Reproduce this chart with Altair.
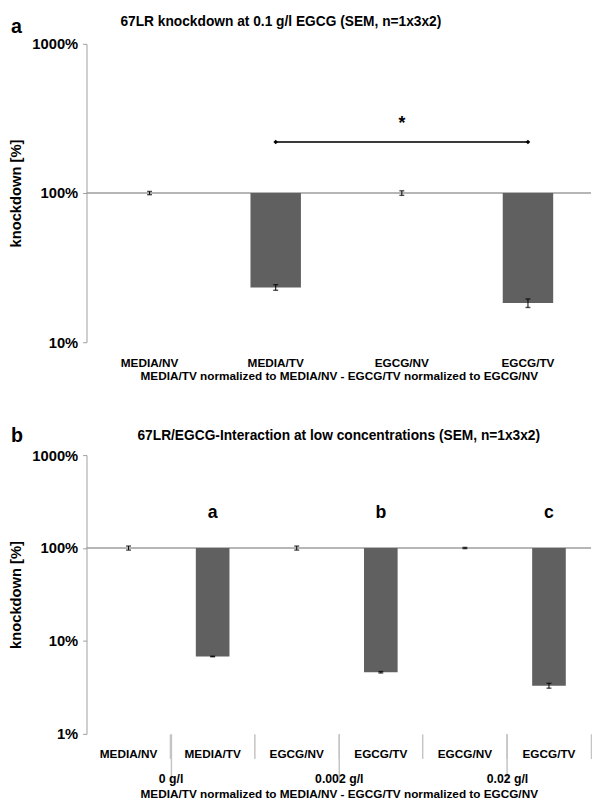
import altair as alt
import pandas as pd

FONT = "Liberation Sans"
BAR = "#606060"
AXIS = "#9e9e9e"
SEP = "#c4c4c4"

# ---------------- data: panel a ----------------
panel_letters = ["a", "b"]
title_a = "67LR knockdown at 0.1 g/l EGCG (SEM, n=1x3x2)"
cats_a = ["MEDIA/NV", "MEDIA/TV", "EGCG/NV", "EGCG/TV"]
vals_a = [100, 23.3, 100, 18.3]
err_a = [2.5, 1.0, 3.5, 1.2]
sig_cats_a = ["MEDIA/TV", "EGCG/TV"]
sig_level_a = [220, 220]
star_cat_a = ["EGCG/NV"]
star_level_a = [290]
yticks_a = [10, 100, 1000]

# ---------------- data: panel b ----------------
title_b = "67LR/EGCG-Interaction at low concentrations (SEM, n=1x3x2)"
group_names = ["0 g/l", "0.002 g/l", "0.02 g/l"]
groups_b = ["0 g/l", "0 g/l", "0.002 g/l", "0.002 g/l", "0.02 g/l", "0.02 g/l"]
cats_b = ["MEDIA/NV", "MEDIA/TV", "EGCG/NV", "EGCG/TV", "EGCG/NV", "EGCG/TV"]
vals_b = [100, 6.8, 100, 4.6, 100, 3.3]
err_b = [5, 0.05, 5, 0.08, 1.5, 0.2]
letter_groups_b = ["0 g/l", "0.002 g/l", "0.02 g/l"]
letter_cats_b = ["MEDIA/TV", "EGCG/TV", "EGCG/TV"]
letter_texts_b = ["a", "b", "c"]
letter_level_b = [240, 240, 240]
yticks_b = [1, 10, 100, 1000]

xtitle = "MEDIA/TV normalized to MEDIA/NV - EGCG/TV normalized to EGCG/NV"
ytitle = "knockdown [%]"
ref_level = [100]

W = 514
PAD0 = {"left": 0, "top": 0, "right": 0, "bottom": 0}


def y_axis(vals):
    return alt.Axis(values=vals, labelExpr="datum.value + '%'", title=ytitle,
                    tickSize=4, labelPadding=5, titlePadding=9,
                    domainColor=AXIS, tickColor=AXIS, labelFontSize=15,
                    titleFontSize=15, grid=False)


def heading_layer(letter, title, title_x, letter_y, title_y):
    lt = alt.Chart(pd.DataFrame({"t": [letter]})).mark_text(
        align="left", baseline="top", fontSize=20, fontWeight="bold",
        font=FONT, color="black").encode(text="t:N", x=alt.value(-77), y=alt.value(letter_y))
    tt = alt.Chart(pd.DataFrame({"t": [title]})).mark_text(
        align="center", baseline="top", fontSize=14, fontWeight="bold",
        font=FONT, color="black").encode(text="t:N", x=alt.value(title_x),
                                         y=alt.value(title_y))
    return lt, tt


# ---------------- panel a ----------------
df_a = pd.DataFrame({"cat": cats_a, "val": vals_a, "err": err_a})
ys_a = alt.Scale(type="log", domain=[yticks_a[0], yticks_a[-1]])
xa_full = alt.X("cat:N", sort=cats_a,
                scale=alt.Scale(paddingInner=0, paddingOuter=0),
                axis=alt.Axis(title=xtitle, labelAngle=0, ticks=False, domain=False,
                              labelPadding=16, titlePadding=2, labelFontSize=12,
                              titleFontSize=12))
xa = alt.X("cat:N", sort=cats_a)

base_a = alt.Chart(df_a).transform_calculate(
    lo="datum.val - datum.err", hi="datum.val + datum.err")

ref_a = alt.Chart(pd.DataFrame({"ref": ref_level})).mark_rule(
    color=AXIS, strokeWidth=1.5).encode(y=alt.Y("ref:Q", scale=ys_a))
bars_a = base_a.mark_bar(color=BAR, width=alt.RelativeBandSize(0.4)).encode(
    x=xa_full, y=alt.Y("val:Q", scale=ys_a, axis=y_axis(yticks_a)), y2=alt.datum(100))
err_rule_a = base_a.mark_rule(color="black", strokeWidth=1).encode(
    x=xa, y="lo:Q", y2="hi:Q")
err_lo_a = base_a.mark_tick(color="black", size=5, thickness=1.4).encode(x=xa, y="lo:Q")
err_hi_a = base_a.mark_tick(color="black", size=5, thickness=1.4).encode(x=xa, y="hi:Q")
sig_a = alt.Chart(pd.DataFrame({"cat": sig_cats_a, "lvl": sig_level_a})).mark_line(
    color="#3a3a3a", strokeWidth=2,
    point=alt.OverlayMarkDef(color="black", size=22, shape="diamond", filled=True)
).encode(x=xa, y="lvl:Q")
star_a = alt.Chart(pd.DataFrame({"cat": star_cat_a, "lvl": star_level_a, "t": ["*"]})).mark_text(
    fontSize=18, fontWeight="bold", baseline="middle", font=FONT, color="black"
).encode(x=xa, y="lvl:Q", text="t:N")
head_a = heading_layer(panel_letters[0], title_a, W / 2 - 59, -27, -29)

panel_a = alt.layer(ref_a, bars_a, err_rule_a, err_lo_a, err_hi_a, sig_a, star_a,
                    *head_a).properties(width=W, height=304)

# ---------------- panel b ----------------
keys_b = [g + "|" + c for g, c in zip(groups_b, cats_b)]
df_b = pd.DataFrame({"group": groups_b, "cat": cats_b, "val": vals_b, "err": err_b})
ys_b = alt.Scale(type="log", domain=[yticks_b[0], yticks_b[-1]])
xb_full = alt.X("key:N", sort=keys_b,
                scale=alt.Scale(paddingInner=0, paddingOuter=0),
                axis=alt.Axis(title=None, labelExpr="split(datum.label, '|')[1]",
                              labelAngle=0, ticks=True, bandPosition=1, tickSize=25,
                              tickColor=SEP, tickWidth=1.5, domain=False,
                              labelPadding=-10, labelFontSize=12))
xb = alt.X("key:N", sort=keys_b)

base_b = alt.Chart(df_b).transform_calculate(
    key="datum.group + '|' + datum.cat",
    lo="datum.val - datum.err", hi="datum.val + datum.err")

ref_b = alt.Chart(pd.DataFrame({"ref": ref_level})).mark_rule(
    color=AXIS, strokeWidth=1.5).encode(y=alt.Y("ref:Q", scale=ys_b))
bars_b = base_b.mark_bar(color=BAR, width=alt.RelativeBandSize(0.4)).encode(
    x=xb_full, y=alt.Y("val:Q", scale=ys_b, axis=y_axis(yticks_b)), y2=alt.datum(100))
err_rule_b = base_b.mark_rule(color="black", strokeWidth=1).encode(
    x=xb, y="lo:Q", y2="hi:Q")
err_lo_b = base_b.mark_tick(color="black", size=5, thickness=1.4).encode(x=xb, y="lo:Q")
err_hi_b = base_b.mark_tick(color="black", size=5, thickness=1.4).encode(x=xb, y="hi:Q")
letters_b = alt.Chart(pd.DataFrame({"group": letter_groups_b, "cat": letter_cats_b,
                                    "t": letter_texts_b, "lvl": letter_level_b})
                      ).transform_calculate(key="datum.group + '|' + datum.cat").mark_text(
    fontSize=18, fontWeight="bold", baseline="middle", font=FONT, color="black"
).encode(x=xb, y="lvl:Q", text="t:N")
head_b = heading_layer(panel_letters[1], title_b, W / 2, -29, -26)

main_b = alt.layer(ref_b, bars_b, err_rule_b, err_lo_b, err_hi_b, letters_b, *head_b)

group_layer = alt.Chart(pd.DataFrame({"group": group_names})).mark_point(opacity=0).encode(
    x=alt.X("group:N", sort=group_names,
            scale=alt.Scale(paddingInner=0, paddingOuter=0),
            axis=alt.Axis(orient="bottom", title=xtitle, bandPosition=0, tickSize=48,
                          tickColor=SEP, tickWidth=1.5, domain=False, labelPadding=-8,
                          labelAngle=0, titlePadding=3, labelFontSize=12.5,
                          titleFontSize=12)),
    y=alt.datum(100))

panel_b = alt.layer(main_b, group_layer).resolve_scale(x="independent").properties(
    width=W, height=284)

chart = alt.vconcat(panel_a, panel_b, spacing=46).properties(padding=PAD0).configure(
    padding=PAD0
).configure_axis(
    labelFont=FONT, titleFont=FONT, labelFontWeight="bold", titleFontWeight="bold",
    labelColor="black", titleColor="black", grid=False
).configure_view(stroke=None)

chart.save("out.html", embed_options={"renderer": "svg", "actions": False})
